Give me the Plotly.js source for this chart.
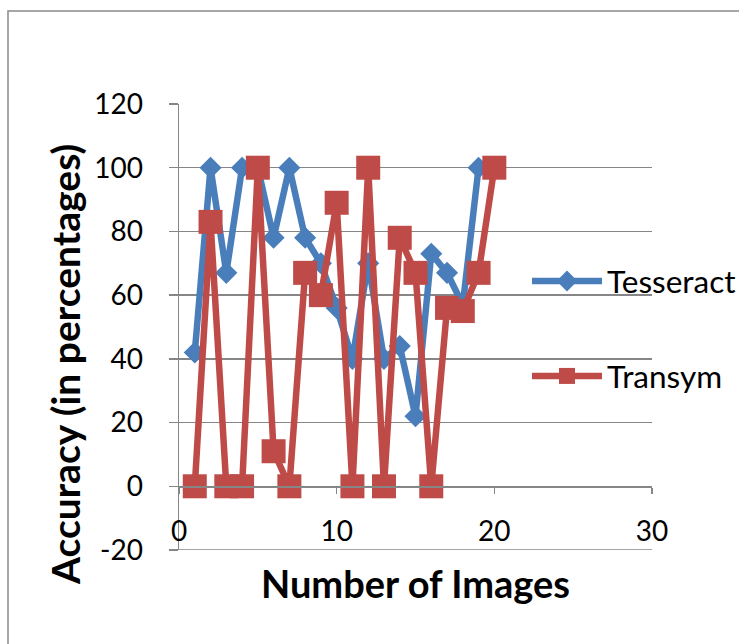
<!DOCTYPE html>
<html>
<head>
<meta charset="utf-8">
<script src="https://cdn.plot.ly/plotly-3.0.1.min.js"></script>
<style>html,body{margin:0;padding:0;background:#fff;}#chart{width:739px;height:644px;}</style>
</head>
<body>
<div id="chart"></div>
<script>
const imageNumbers = [1,2,3,4,5,6,7,8,9,10,11,12,13,14,15,16,17,18,19,20];
const tesseract = [42,100,67,100,100,78,100,78,70,56,40,70,40,44,22,73,67,57,100,100];
const transym = [0,83,0,0,100,11,0,67,60,89,0,100,0,78,67,0,56,55,67,100];
const seriesNames = ['Tesseract','Transym'];
const xTicks = [0,10,20,30];
const yTicks = [-20,0,20,40,60,80,100,120];
const xTitle = 'Number of Images';
const yTitle = 'Accuracy (in percentages)';

const FONT = 'Lato, "Open Sans", sans-serif';
const GRID = '#868686';

const traces = [
  {x: imageNumbers, y: tesseract, name: seriesNames[0], type: 'scatter', mode: 'lines+markers',
   legendgroup: 'a',
   line: {color: '#4A7EBB', width: 6.5}, marker: {symbol: 'diamond', size: 17, color: '#4A7EBB'}},
  {x: imageNumbers, y: transym, name: seriesNames[1], type: 'scatter', mode: 'lines+markers',
   legendgroup: 'b',
   line: {color: '#BE4B48', width: 6.5}, marker: {symbol: 'square', size: 24, color: '#BE4B48'}}
];

const L = 179, R = 87, T = 104, B = 94, W = 739, H = 644;
const pw = W - L - R, ph = H - T - B;
function px(x){ return (x - L)/pw; }
function py(y){ return 1 - (y - T)/ph; }

const layout = {
  width: W, height: H,
  margin: {l: L, r: R, t: T, b: B, pad: 0, autoexpand: false},
  paper_bgcolor: '#fff', plot_bgcolor: 'rgba(0,0,0,0)',
  font: {family: FONT, size: 28, color: '#000'},
  showlegend: true,
  legend: {x: px(527), xanchor: 'left', y: py(254), yanchor: 'top',
           bgcolor: 'rgba(0,0,0,0)', tracegroupgap: 51, itemwidth: 70,
           font: {family: FONT, size: 31.5, color: '#000'}},
  xaxis: {range: [0, 30], tickvals: xTicks, ticktext: xTicks.map(String),
          anchor: 'free', position: 20/140, automargin: false,
          showline: true, linecolor: GRID, linewidth: 1.5,
          ticks: 'outside', ticklen: 6, tickwidth: 1.5, tickcolor: GRID,
          ticklabelstandoff: 14,
          showgrid: false, zeroline: false,
          title: {text: xTitle, font: {family: FONT, size: 38, weight: 'bold', color: '#000'}, standoff: 25}},
  yaxis: {range: [-20, 120], tickvals: yTicks, ticktext: yTicks.map(String), automargin: false,
          showline: true, linecolor: GRID, linewidth: 1.5,
          ticks: 'outside', ticklen: 9, tickwidth: 1.5, tickcolor: GRID,
          ticklabelstandoff: 20,
          showgrid: true, gridcolor: GRID, gridwidth: 1.5, zeroline: false},
  annotations: [
    {text: yTitle, textangle: -90, xref: 'paper', yref: 'paper', x: px(65), y: py(365),
     xanchor: 'center', yanchor: 'middle', showarrow: false,
     font: {family: FONT, size: 39, weight: 'bold', color: '#000'}}
  ],
  shapes: [
    {type: 'rect', xref: 'paper', yref: 'paper', x0: px(8), x1: px(760), y0: py(11), y1: py(670),
     line: {color: '#8a8a8a', width: 1.5}, fillcolor: 'rgba(0,0,0,0)', layer: 'below'},
    {type: 'line', xref: 'paper', yref: 'y', x0: 0, x1: 1, y0: -20, y1: -20,
     line: {color: GRID, width: 1.5}, layer: 'below'}
  ]
};

Plotly.newPlot('chart', traces, layout, {displayModeBar: false, staticPlot: true});
</script>
</body>
</html>
